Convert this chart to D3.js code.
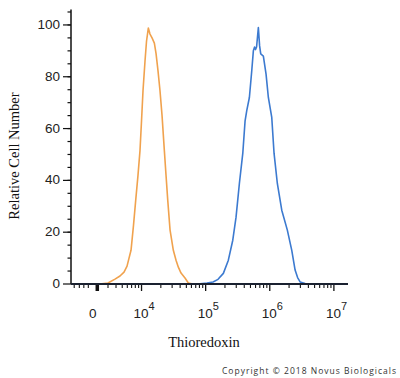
<!DOCTYPE html>
<html><head><meta charset="utf-8">
<script src="https://cdn.jsdelivr.net/npm/d3@7"></script>
<style>body{margin:0;background:#fff}svg{display:block}</style>
</head><body><svg id="c" width="400" height="378"></svg>
<script>
// log10 intensity and relative count
const orangeLog = [2.9,3.35,3.477,3.586,3.664,3.727,3.774,3.805,3.836,3.875,3.909,3.945,3.976,4.0,4.023,4.054,4.078,4.106,4.132,4.164,4.2,4.226,4.257,4.288,4.32,4.356,4.382,4.409,4.445,4.496,4.538,4.574,4.616,4.678,4.73,4.8,7.22];
const orangeVal = [0,0,0.4,1.9,3.1,4.6,6.9,10,13,22.7,32.3,42,51.5,63,74.6,86,93.8,98.8,96.5,95,93,89,82.3,74.6,65,51.5,42,32.3,20.8,13,9.2,6.5,4.2,2.3,0.4,0,0];
const blueLog = [2.9,4.85,4.912,5.022,5.115,5.193,5.276,5.354,5.423,5.474,5.526,5.579,5.615,5.641,5.682,5.719,5.744,5.763,5.778,5.794,5.822,5.841,5.859,5.9,5.942,5.978,6.031,6.067,6.118,6.187,6.274,6.343,6.395,6.434,6.473,6.551,6.628,7.22];
const blueVal = [0,0,0.1,0.4,0.8,1.8,4.1,9.2,16.9,25.8,38.8,50.4,63,66.9,72,82.3,90,91.5,90.5,91.5,99,92,88.8,88,81,72,64.3,50.4,38.8,28.5,20.8,13,5.4,2.5,0.8,0.2,0,0];
const yTicks = [0,20,40,60,80,100];
const yMinor = d3.range(5,106,5);
const xMajorExp = [4,5,6,7];
const zeroLog = 3.24;
const zeroMark = 3.31;

const svg = d3.select("#c");
const x = d3.scaleLinear().domain([2.9,7.22]).range([71,348]);
const y = d3.scaleLinear().domain([0,106]).range([284,9.4]);

const line = d3.line().x(d=>x(d[0])).y(d=>y(d[1])).curve(d3.curveLinear);
svg.append("path").datum(d3.zip(orangeLog,orangeVal)).attr("d",line)
  .attr("fill","none").attr("stroke","#f0a24e").attr("stroke-width",1.6).attr("stroke-linejoin","round");
svg.append("path").datum(d3.zip(blueLog,blueVal)).attr("d",line)
  .attr("fill","none").attr("stroke","#3c7ad0").attr("stroke-width",1.6).attr("stroke-linejoin","round");

// y axis
const ax = svg.append("g").attr("stroke","#111");
ax.append("line").attr("x1",71).attr("x2",71).attr("y1",y(106)).attr("y2",y(0)).attr("stroke-width",1.5);
ax.selectAll(".ym").data(yMinor).join("line").attr("x1",67.5).attr("x2",71).attr("y1",d=>y(d)).attr("y2",d=>y(d)).attr("stroke-width",1.2);
ax.selectAll(".yM").data(yTicks).join("line").attr("x1",63).attr("x2",71).attr("y1",d=>y(d)).attr("y2",d=>y(d)).attr("stroke-width",1.2);
svg.selectAll(".yl").data(yTicks).join("text").attr("x",60).attr("y",d=>y(d)+0.5)
  .attr("text-anchor","end").attr("dominant-baseline","middle")
  .attr("font-family","Liberation Sans, Arial, sans-serif").attr("font-size",13.5).attr("fill","#222").text(d=>d);

// x axis
const minor = [2.95,3.03,3.1,3.17];
for (let k=3;k<=6;k++) for (let m=2;m<=9;m++) minor.push(Math.log10(m*Math.pow(10,k)));
ax.selectAll(".xm").data(minor.filter(v=>v>3.28)).join("line").attr("x1",d=>x(d)).attr("x2",d=>x(d)).attr("y1",284).attr("y2",288).attr("stroke-width",1.1);
ax.selectAll(".xn").data(minor.filter(v=>v<3.28)).join("line").attr("x1",d=>x(d)).attr("x2",d=>x(d)).attr("y1",284).attr("y2",288).attr("stroke-width",1.1);
ax.selectAll(".xM").data(xMajorExp).join("line").attr("x1",d=>x(d)).attr("x2",d=>x(d)).attr("y1",284).attr("y2",291).attr("stroke-width",1.3);
ax.append("line").attr("x1",x(zeroMark)).attr("x2",x(zeroMark)).attr("y1",284).attr("y2",291).attr("stroke-width",3.5);
ax.append("line").attr("x1",71).attr("x2",348).attr("y1",284).attr("y2",284).attr("stroke-width",2).attr("stroke","#1a2130");

const xl = svg.append("g").attr("font-family","Liberation Sans, Arial, sans-serif").attr("fill","#222");
xl.append("text").attr("x",x(zeroLog)).attr("y",318).attr("text-anchor","middle").attr("font-size",13.5).text("0");
xMajorExp.forEach(e=>{
  const t = xl.append("text").attr("x",x(e)-8).attr("y",318).attr("font-size",13.5);
  t.append("tspan").text("10");
  t.append("tspan").attr("dy",-8).attr("font-size",11).text(e);
});

// axis titles
svg.append("text").attr("transform","translate(19,156) rotate(-90)").attr("text-anchor","middle")
  .attr("font-family","Liberation Serif, Times New Roman, serif").attr("font-size",14.5).attr("fill","#111").text("Relative Cell Number");
svg.append("text").attr("x",204).attr("y",347).attr("text-anchor","middle")
  .attr("font-family","Liberation Serif, Times New Roman, serif").attr("font-size",14.5).attr("fill","#111").text("Thioredoxin");
svg.append("text").attr("x",222).attr("y",374).attr("textLength",174).attr("lengthAdjust","spacing")
  .attr("font-family","Open Sans, sans-serif").attr("font-size",8.5).attr("fill","#333").text("Copyright \u00A9 2018 Novus Biologicals");
</script></body></html>
